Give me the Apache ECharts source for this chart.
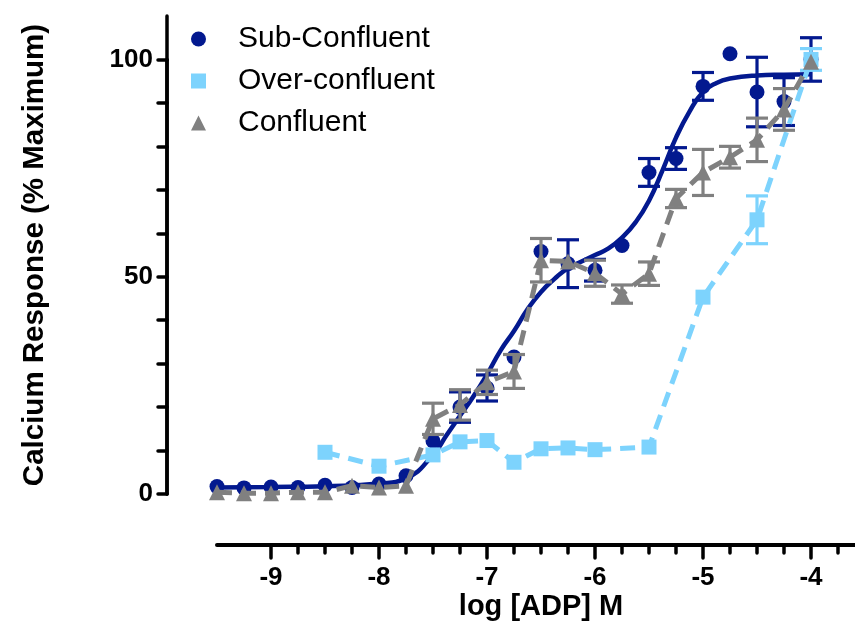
<!DOCTYPE html>
<html>
<head>
<meta charset="utf-8">
<script src="https://cdn.jsdelivr.net/npm/echarts@6/dist/echarts.min.js"></script>
<style>
html,body{margin:0;padding:0;background:#fff;}
#chart{width:855px;height:631px;}
</style>
</head>
<body>
<div id="chart"></div>
<script>
// ---- data ----
const logX = [-9.5,-9.25,-9,-8.75,-8.5,-8.25,-8,-7.75,-7.5,-7.25,-7,-6.75,-6.5,-6.25,-6,-5.75,-5.5,-5.25,-5,-4.75,-4.5,-4.25,-4];
const subConf    = [1.7,1.4,1.6,1.5,2.0,1.5,2.3,4.2,12.2,20,24.4,31.5,55.8,53,51.5,57.2,74,77.2,93.8,101.3,92.5,90.3,100];
const subConfSem = [0,0,0,0,0,0,0,0,0,3.5,3,0,0,5.5,2.5,0,3.2,2.5,3.2,0,8,5.5,5];
const conf       = [0.4,0.2,0.2,0.4,0.4,1.9,1.5,1.9,17.3,20.5,25.7,28.2,53.8,53.5,50.8,46,50.7,68,74,77.5,81.5,88.5,99.5];
const confSem    = [0,0,0,0,0,0,0,0,3.6,3.5,2.8,3.9,5,0,3,2.1,2.7,2.1,5.3,2.5,5,4.8,0];
const overX      = [-8.5,-8,-7.5,-7.25,-7,-6.75,-6.5,-6.25,-6,-5.5,-5,-4.5,-4];
const over       = [9.6,6.4,9,12,12.3,7.3,10.4,10.6,10.2,10.8,45.3,63.1,100];
const overSem    = [0,0,0,0,0,0,0,0,0,0,0,5.5,2.5];
// fitted curve for Sub-Confluent
const fitX = [-9.5,-9,-8.5,-8,-7.75,-7.5,-7.375,-7.25,-7.125,-7,-6.875,-6.75,-6.625,-6.5,-6.375,-6.25,-6.125,-6,-5.875,-5.75,-5.625,-5.5,-5.375,-5.25,-5.125,-5,-4.875,-4.75,-4.5,-4.25,-4];
const fitY = [1.5,1.6,1.8,2.4,3.6,9,13.5,18,22.5,27.5,33,37.5,42.5,46.5,49.5,52,53.5,55,56.5,59,62.5,67.5,74.5,82,88,92.5,94.6,95.6,96.3,96.5,96.6];
const yTickLabels = [0, 50, 100];
const seriesNames = ['Sub-Confluent', 'Over-confluent', 'Confluent'];

const C_BLUE = '#03198f', C_LIGHT = '#7dd3fd', C_GRAY = '#808080';
const FONT = '"Liberation Sans", Arial, sans-serif';

function zip(xs, ys) { return xs.map((x, i) => [x, ys[i]]); }
function errData(xs, ys, es) {
  const out = [];
  xs.forEach((x, i) => { if (es[i] > 0) out.push([x, ys[i], es[i]]); });
  return out;
}
function errRender(color) {
  return function (params, api) {
    const x = api.value(0), y = api.value(1), e = api.value(2);
    const t = api.coord([x, y + e]), b = api.coord([x, y - e]);
    const hw = 11;
    const st = { stroke: color, lineWidth: 3.2 };
    return { type: 'group', children: [
      { type: 'line', shape: { x1: t[0], y1: t[1], x2: b[0], y2: b[1] }, style: st },
      { type: 'line', shape: { x1: t[0] - hw, y1: t[1], x2: t[0] + hw, y2: t[1] }, style: st },
      { type: 'line', shape: { x1: b[0] - hw, y1: b[1], x2: b[0] + hw, y2: b[1] }, style: st }
    ]};
  };
}

const chart = echarts.init(document.getElementById('chart'), null, { renderer: 'canvas' });
const option = {
  animation: false,
  backgroundColor: '#fff',
  textStyle: { fontFamily: FONT },
  legend: {
    orient: 'vertical', left: 186, top: 19,
    itemWidth: 15, itemHeight: 15, itemGap: 12,
    textStyle: { fontFamily: FONT, fontSize: 30, color: '#000', lineHeight: 30, padding: [0, 0, 0, 27] },
    data: [
      { name: seriesNames[0], icon: 'circle' },
      { name: seriesNames[1], icon: 'rect' },
      { name: seriesNames[2], icon: 'triangle' }
    ]
  },
  grid: [
    { left: 217, width: 648, top: 16, height: 478, outerBoundsMode: 'none', containLabel: false },
    { left: 271, width: 567, top: 59.5, height: 434.5, outerBoundsMode: 'none', containLabel: false },
    { left: 271, width: 540, top: 59.5, height: 434.5, outerBoundsMode: 'none', containLabel: false }
  ],
  xAxis: [
    { gridIndex: 0, type: 'value', min: -9.5, max: -3.5, offset: 51,
      axisLine: { show: true, onZero: false, lineStyle: { color: '#000', width: 4 } },
      axisTick: { show: false }, axisLabel: { show: false }, splitLine: { show: false },
      name: 'log [ADP] M', nameLocation: 'middle', nameGap: 47,
      nameTextStyle: { fontFamily: FONT, fontSize: 29, fontWeight: 'bold', color: '#000' } },
    { gridIndex: 1, type: 'value', min: -9, max: -3.75, interval: 0.25, offset: 51,
      axisLine: { show: true, onZero: false, lineStyle: { color: '#000', width: 4 } },
      axisTick: { show: true, length: 8, lineStyle: { color: '#000', width: 3.5, cap: 'round' } },
      axisLabel: { show: false }, splitLine: { show: false } },
    { gridIndex: 2, type: 'value', min: -9, max: -4, interval: 1, offset: 51,
      axisLine: { show: true, onZero: false, lineStyle: { color: '#000', width: 4 } },
      axisTick: { show: true, length: 13, lineStyle: { color: '#000', width: 3.5, cap: 'round' } },
      axisLabel: { show: true, margin: 20, fontFamily: FONT, fontSize: 26, fontWeight: 'bold', color: '#000' },
      splitLine: { show: false } }
  ],
  yAxis: [
    { gridIndex: 0, type: 'value', min: 0, max: 110, offset: 50,
      axisLine: { show: true, onZero: false, lineStyle: { color: '#000', width: 3.5 } },
      axisTick: { show: false }, axisLabel: { show: false }, splitLine: { show: false },
      name: 'Calcium Response (% Maximum)', nameLocation: 'middle', nameGap: 117, nameRotate: 90,
      nameTextStyle: { fontFamily: FONT, fontSize: 29.5, fontWeight: 'bold', color: '#000' } },
    { gridIndex: 1, type: 'value', min: 0, max: 100, interval: 10, offset: 104,
      axisLine: { show: true, onZero: false, lineStyle: { color: '#000', width: 3.5 } },
      axisTick: { show: true, length: 9, lineStyle: { color: '#000', width: 3.5, cap: 'round' } },
      axisLabel: { show: true, margin: 14, fontFamily: FONT, fontSize: 26, fontWeight: 'bold', color: '#000',
        formatter: v => yTickLabels.indexOf(v) >= 0 ? String(v) : '' },
      splitLine: { show: false } },
    { gridIndex: 2, type: 'value', min: 0, max: 100, show: false }
  ],
  series: [
    { type: 'custom', name: 'sub-err', xAxisIndex: 0, yAxisIndex: 0, z: 2,
      renderItem: errRender(C_BLUE), encode: { x: 0, y: 1 },
      data: errData(logX, subConf, subConfSem) },
    { type: 'line', name: 'Sub-Confluent fit', xAxisIndex: 0, yAxisIndex: 0, z: 3,
      data: zip(fitX, fitY), smooth: true, showSymbol: false,
      lineStyle: { color: C_BLUE, width: 4.5 } },
    { type: 'scatter', name: seriesNames[0], xAxisIndex: 0, yAxisIndex: 0, z: 4,
      data: zip(logX, subConf), symbol: 'circle', symbolSize: 15,
      itemStyle: { color: C_BLUE, opacity: 1 } },
    { type: 'custom', name: 'over-err', xAxisIndex: 0, yAxisIndex: 0, z: 5,
      renderItem: errRender(C_LIGHT), encode: { x: 0, y: 1 },
      data: errData(overX, over, overSem) },
    { type: 'line', name: seriesNames[1], xAxisIndex: 0, yAxisIndex: 0, z: 6,
      data: zip(overX, over), symbol: 'rect', symbolSize: 15, showAllSymbol: true,
      itemStyle: { color: C_LIGHT },
      lineStyle: { color: C_LIGHT, width: 5, type: [15, 9] } },
    { type: 'custom', name: 'conf-err', xAxisIndex: 0, yAxisIndex: 0, z: 7,
      renderItem: errRender(C_GRAY), encode: { x: 0, y: 1 },
      data: errData(logX, conf, confSem) },
    { type: 'line', name: seriesNames[2], xAxisIndex: 0, yAxisIndex: 0, z: 8,
      data: zip(logX, conf), symbol: 'triangle', symbolSize: 16, showAllSymbol: true,
      itemStyle: { color: C_GRAY },
      lineStyle: { color: C_GRAY, width: 5, type: [15, 9] } }
  ]
};
chart.setOption(option);
</script>
</body>
</html>
